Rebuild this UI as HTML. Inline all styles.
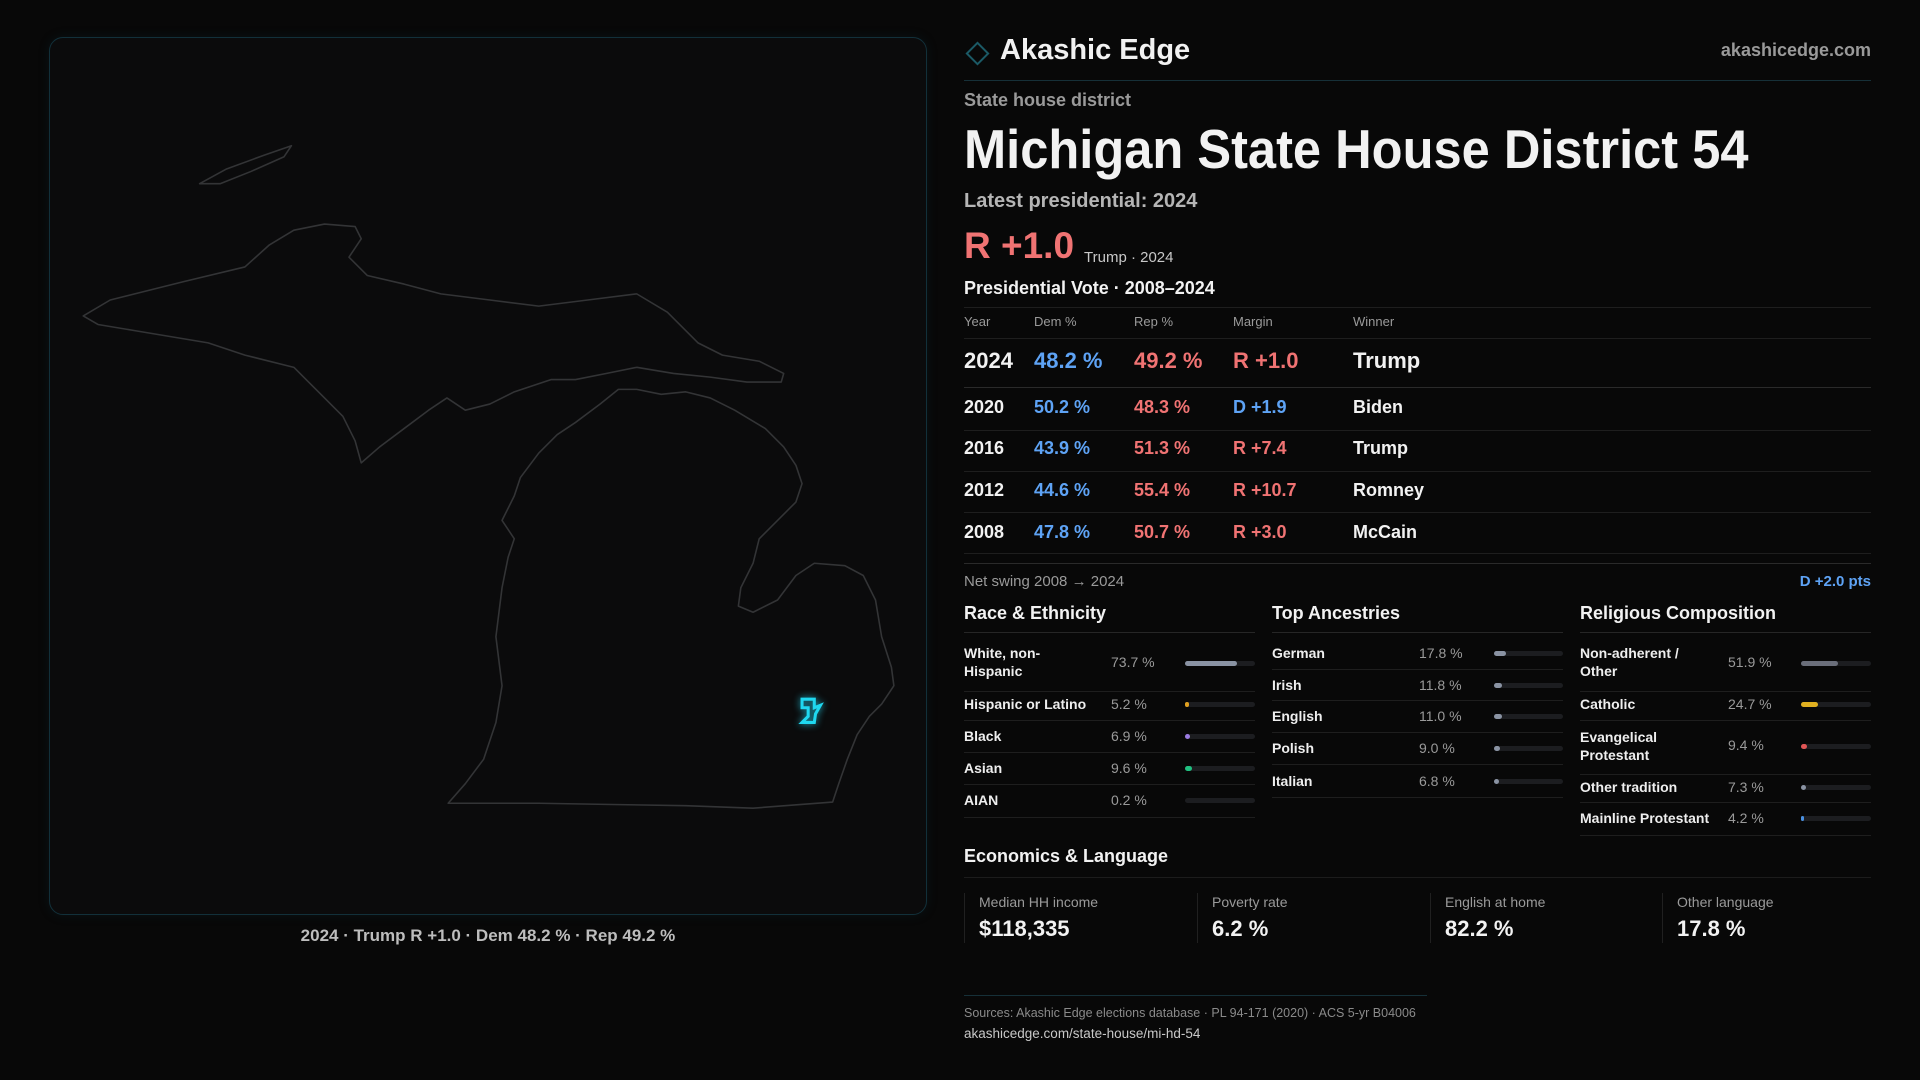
<!DOCTYPE html>
<html><head><meta charset="utf-8"><style>
*{margin:0;padding:0;box-sizing:border-box}
body{width:1920px;height:1080px;background:#080808;position:relative;overflow:hidden;font-family:"Liberation Sans",sans-serif;color:#f2f2f2}
.a{position:absolute;white-space:nowrap}
.g{color:#9a9a9a}
.ln{position:absolute;height:1px;background:#1e1e1e}
.bar{position:absolute;height:5px;border-radius:3px;background:#1c1d20}
.bar i{position:absolute;left:0;top:0;height:5px;border-radius:3px}
.lab{font-size:14px;font-weight:bold;color:#eee;line-height:18px}
.val{font-size:14px;color:#9a9a9a}
.yr{font-size:18px;font-weight:bold}
.d{color:#5ea3f5}.r{color:#f07373}
</style></head><body>
<div style="position:absolute;left:49px;top:37px;width:878px;height:878px;border:1px solid #12303a;border-radius:14px;background:#0b0b0c;box-shadow:0 0 12px rgba(20,80,100,0.15)"></div>
<svg style="position:absolute;left:0;top:0" width="1920" height="1080" viewBox="0 0 1568 882">
<g fill="none" stroke="#333436" stroke-width="1.3" stroke-linejoin="round">
<path d="M366,656 L380,640 L395,620 L405,590 L410,560 L405,520 L410,480 L415,455 L420,440 L410,425 L420,405 L425,390 L440,370 L455,355 L470,345 L490,330 L505,318 L520,318 L540,322 L560,320 L580,325 L600,335 L625,350 L640,365 L650,380 L655,395 L650,410 L640,420 L630,430 L620,440 L615,460 L605,480 L603,495 L615,500 L635,490 L650,470 L665,460 L690,462 L705,470 L715,490 L720,520 L728,545 L730,560 L720,575 L710,585 L700,600 L692,620 L685,640 L680,655 L615,660 L560,658 L500,657 L440,656 Z"/>
<path d="M68,258 L90,245 L110,240 L150,230 L200,218 L220,200 L240,188 L265,183 L290,185 L295,195 L285,210 L300,225 L330,232 L360,240 L400,245 L440,250 L480,245 L520,240 L545,255 L560,270 L570,280 L590,290 L620,295 L640,305 L638,312 L610,312 L580,308 L550,305 L520,300 L495,305 L470,310 L450,310 L420,320 L400,330 L380,335 L365,325 L350,335 L330,350 L310,365 L295,378 L290,360 L280,340 L260,320 L240,300 L200,290 L170,280 L140,275 L110,270 L80,265 Z"/>
<path d="M163,150 L185,138 L215,127 L238,119 L232,128 L205,140 L180,150 Z"/>
</g>
<path d="M655,571 L665,571 L665,578 L670,576 L666,583 L665,590 L655,590 L660,585 L660,578 L655,578 Z" fill="none" stroke="#1fd8f0" stroke-width="2.5" style="filter:drop-shadow(0 0 3px #1fb8d0)"/>
</svg>
<div class="a" style="left:0;width:976px;text-align:center;top:926px;font-size:17px;font-weight:bold;color:#bdbdbd">2024 · Trump R +1.0 · Dem 48.2 % · Rep 49.2 %</div>

<div class="a" style="left:969px;top:45px;width:17px;height:17px;border:2px solid #1b5a66;transform:rotate(45deg)"></div>
<div class="a" style="left:1000px;top:34px;font-size:29px;font-weight:bold">Akashic Edge</div>
<div class="a g" style="right:49px;top:40px;font-size:18px;font-weight:bold">akashicedge.com</div>
<div class="ln" style="left:964px;width:907px;top:80px;background:#163038"></div>
<div class="a g" style="left:964px;top:90px;font-size:18px;font-weight:bold">State house district</div>
<div class="a" style="left:964px;top:119px;font-size:55px;font-weight:bold;transform:scaleX(0.92);transform-origin:left;line-height:60px">Michigan State House District 54</div>
<div class="a" style="left:964px;top:190px;font-size:20px;font-weight:bold;color:#b5b5b5">Latest presidential: 2024</div>
<div class="a r" style="left:964px;top:225px;font-size:37px;font-weight:bold">R +1.0</div>
<div class="a" style="left:1084px;top:249px;font-size:15px;color:#c8c8c8">Trump · 2024</div>
<div class="a" style="left:964px;top:278px;font-size:18px;font-weight:bold">Presidential Vote · 2008–2024</div>
<div class="ln" style="left:964px;width:907px;top:307px"></div>
<div class="a g" style="left:964px;top:314px;font-size:13px">Year</div>
<div class="a g" style="left:1034px;top:314px;font-size:13px">Dem %</div>
<div class="a g" style="left:1134px;top:314px;font-size:13px">Rep %</div>
<div class="a g" style="left:1233px;top:314px;font-size:13px">Margin</div>
<div class="a g" style="left:1353px;top:314px;font-size:13px">Winner</div>
<div class="ln" style="left:964px;width:907px;top:338px"></div>
<div class="a yr" style="left:964px;top:348px;font-size:22px">2024</div>
<div class="a yr d" style="left:1034px;top:348px;font-size:22px">48.2 %</div>
<div class="a yr r" style="left:1134px;top:348px;font-size:22px">49.2 %</div>
<div class="a yr r" style="left:1233px;top:348px;font-size:22px">R +1.0</div>
<div class="a yr" style="left:1353px;top:348px;font-size:22px">Trump</div>
<div class="ln" style="left:964px;width:907px;top:387px;background:#2a2a2a"></div>
<div class="a yr" style="left:964px;top:397px">2020</div><div class="a yr d" style="left:1034px;top:397px">50.2 %</div><div class="a yr r" style="left:1134px;top:397px">48.3 %</div><div class="a yr d" style="left:1233px;top:397px">D +1.9</div><div class="a yr" style="left:1353px;top:397px">Biden</div>
<div class="ln" style="left:964px;width:907px;top:430px"></div>
<div class="a yr" style="left:964px;top:438px">2016</div><div class="a yr d" style="left:1034px;top:438px">43.9 %</div><div class="a yr r" style="left:1134px;top:438px">51.3 %</div><div class="a yr r" style="left:1233px;top:438px">R +7.4</div><div class="a yr" style="left:1353px;top:438px">Trump</div>
<div class="ln" style="left:964px;width:907px;top:471px"></div>
<div class="a yr" style="left:964px;top:480px">2012</div><div class="a yr d" style="left:1034px;top:480px">44.6 %</div><div class="a yr r" style="left:1134px;top:480px">55.4 %</div><div class="a yr r" style="left:1233px;top:480px">R +10.7</div><div class="a yr" style="left:1353px;top:480px">Romney</div>
<div class="ln" style="left:964px;width:907px;top:512px"></div>
<div class="a yr" style="left:964px;top:522px">2008</div><div class="a yr d" style="left:1034px;top:522px">47.8 %</div><div class="a yr r" style="left:1134px;top:522px">50.7 %</div><div class="a yr r" style="left:1233px;top:522px">R +3.0</div><div class="a yr" style="left:1353px;top:522px">McCain</div>
<div class="ln" style="left:964px;width:907px;top:553px"></div>
<div class="ln" style="left:964px;width:907px;top:563px;background:#2a2a2a"></div>
<div class="a g" style="left:964px;top:573px;font-size:15px">Net swing 2008 → 2024</div>
<div class="a d" style="right:49px;top:573px;font-size:15px;font-weight:bold">D +2.0 pts</div>

<div class="a" style="left:964px;top:603px;font-size:18px;font-weight:bold">Race &amp; Ethnicity</div>
<div class="a" style="left:1272px;top:603px;font-size:18px;font-weight:bold">Top Ancestries</div>
<div class="a" style="left:1580px;top:603px;font-size:18px;font-weight:bold">Religious Composition</div>
<div class="ln" style="left:964px;width:291px;top:632px;background:#262626"></div>
<div class="ln" style="left:1272px;width:291px;top:632px;background:#262626"></div>
<div class="ln" style="left:1580px;width:291px;top:632px;background:#262626"></div>

<div class="a lab" style="left:964px;top:644px">White, non-<br>Hispanic</div><div class="a val" style="left:1111px;top:654px">73.7 %</div><div class="bar" style="left:1185px;top:661px;width:70px"><i style="width:52px;background:#8a93a3"></i></div>
<div class="ln" style="left:964px;width:291px;top:691px"></div>
<div class="a lab" style="left:964px;top:695px">Hispanic or Latino</div><div class="a val" style="left:1111px;top:696px">5.2 %</div><div class="bar" style="left:1185px;top:702px;width:70px"><i style="width:4px;background:#e0a020"></i></div>
<div class="ln" style="left:964px;width:291px;top:720px"></div>
<div class="a lab" style="left:964px;top:727px">Black</div><div class="a val" style="left:1111px;top:728px">6.9 %</div><div class="bar" style="left:1185px;top:734px;width:70px"><i style="width:5px;background:#9a7ae0"></i></div>
<div class="ln" style="left:964px;width:291px;top:752px"></div>
<div class="a lab" style="left:964px;top:759px">Asian</div><div class="a val" style="left:1111px;top:760px">9.6 %</div><div class="bar" style="left:1185px;top:766px;width:70px"><i style="width:7px;background:#20c080"></i></div>
<div class="ln" style="left:964px;width:291px;top:784px"></div>
<div class="a lab" style="left:964px;top:791px">AIAN</div><div class="a val" style="left:1111px;top:792px">0.2 %</div><div class="bar" style="left:1185px;top:798px;width:70px"></div>
<div class="ln" style="left:964px;width:291px;top:817px"></div>

<div class="a lab" style="left:1272px;top:644px">German</div><div class="a val" style="left:1419px;top:645px">17.8 %</div><div class="bar" style="left:1494px;top:651px;width:69px"><i style="width:12px;background:#8a93a3"></i></div>
<div class="ln" style="left:1272px;width:291px;top:669px"></div>
<div class="a lab" style="left:1272px;top:676px">Irish</div><div class="a val" style="left:1419px;top:677px">11.8 %</div><div class="bar" style="left:1494px;top:683px;width:69px"><i style="width:8px;background:#8a93a3"></i></div>
<div class="ln" style="left:1272px;width:291px;top:700px"></div>
<div class="a lab" style="left:1272px;top:707px">English</div><div class="a val" style="left:1419px;top:708px">11.0 %</div><div class="bar" style="left:1494px;top:714px;width:69px"><i style="width:8px;background:#8a93a3"></i></div>
<div class="ln" style="left:1272px;width:291px;top:732px"></div>
<div class="a lab" style="left:1272px;top:739px">Polish</div><div class="a val" style="left:1419px;top:740px">9.0 %</div><div class="bar" style="left:1494px;top:746px;width:69px"><i style="width:6px;background:#8a93a3"></i></div>
<div class="ln" style="left:1272px;width:291px;top:764px"></div>
<div class="a lab" style="left:1272px;top:772px">Italian</div><div class="a val" style="left:1419px;top:773px">6.8 %</div><div class="bar" style="left:1494px;top:779px;width:69px"><i style="width:5px;background:#8a93a3"></i></div>
<div class="ln" style="left:1272px;width:291px;top:797px"></div>

<div class="a lab" style="left:1580px;top:644px">Non-adherent /<br>Other</div><div class="a val" style="left:1728px;top:654px">51.9 %</div><div class="bar" style="left:1801px;top:661px;width:70px"><i style="width:37px;background:#6a6e7a"></i></div>
<div class="ln" style="left:1580px;width:291px;top:691px"></div>
<div class="a lab" style="left:1580px;top:695px">Catholic</div><div class="a val" style="left:1728px;top:696px">24.7 %</div><div class="bar" style="left:1801px;top:702px;width:70px"><i style="width:17px;background:#e0b020"></i></div>
<div class="ln" style="left:1580px;width:291px;top:720px"></div>
<div class="a lab" style="left:1580px;top:728px">Evangelical<br>Protestant</div><div class="a val" style="left:1728px;top:737px">9.4 %</div><div class="bar" style="left:1801px;top:744px;width:70px"><i style="width:6px;background:#e05555"></i></div>
<div class="ln" style="left:1580px;width:291px;top:774px"></div>
<div class="a lab" style="left:1580px;top:778px">Other tradition</div><div class="a val" style="left:1728px;top:779px">7.3 %</div><div class="bar" style="left:1801px;top:785px;width:70px"><i style="width:5px;background:#8a93a3"></i></div>
<div class="ln" style="left:1580px;width:291px;top:802px"></div>
<div class="a lab" style="left:1580px;top:809px">Mainline Protestant</div><div class="a val" style="left:1728px;top:810px">4.2 %</div><div class="bar" style="left:1801px;top:816px;width:70px"><i style="width:3px;background:#4a90e0"></i></div>
<div class="ln" style="left:1580px;width:291px;top:835px"></div>

<div class="a" style="left:964px;top:846px;font-size:18px;font-weight:bold">Economics &amp; Language</div>
<div class="ln" style="left:964px;width:907px;top:877px;background:#1c1c1c"></div>
<div class="a" style="left:964px;top:893px;width:1px;height:50px;background:#202020"></div>
<div class="a" style="left:1197px;top:893px;width:1px;height:50px;background:#202020"></div>
<div class="a" style="left:1430px;top:893px;width:1px;height:50px;background:#202020"></div>
<div class="a" style="left:1662px;top:893px;width:1px;height:50px;background:#202020"></div>
<div class="a g" style="left:979px;top:894px;font-size:14px">Median HH income</div><div class="a" style="left:979px;top:916px;font-size:22px;font-weight:bold">$118,335</div>
<div class="a g" style="left:1212px;top:894px;font-size:14px">Poverty rate</div><div class="a" style="left:1212px;top:916px;font-size:22px;font-weight:bold">6.2 %</div>
<div class="a g" style="left:1445px;top:894px;font-size:14px">English at home</div><div class="a" style="left:1445px;top:916px;font-size:22px;font-weight:bold">82.2 %</div>
<div class="a g" style="left:1677px;top:894px;font-size:14px">Other language</div><div class="a" style="left:1677px;top:916px;font-size:22px;font-weight:bold">17.8 %</div>

<div class="ln" style="left:964px;width:463px;top:995px;background:#163038"></div>
<div class="a g" style="left:964px;top:1006px;font-size:12.5px;color:#8a8a8a">Sources: Akashic Edge elections database · PL 94-171 (2020) · ACS 5-yr B04006</div>
<div class="a" style="left:964px;top:1026px;font-size:13.5px;color:#c8c8c8">akashicedge.com/state-house/mi-hd-54</div>
</body></html>
